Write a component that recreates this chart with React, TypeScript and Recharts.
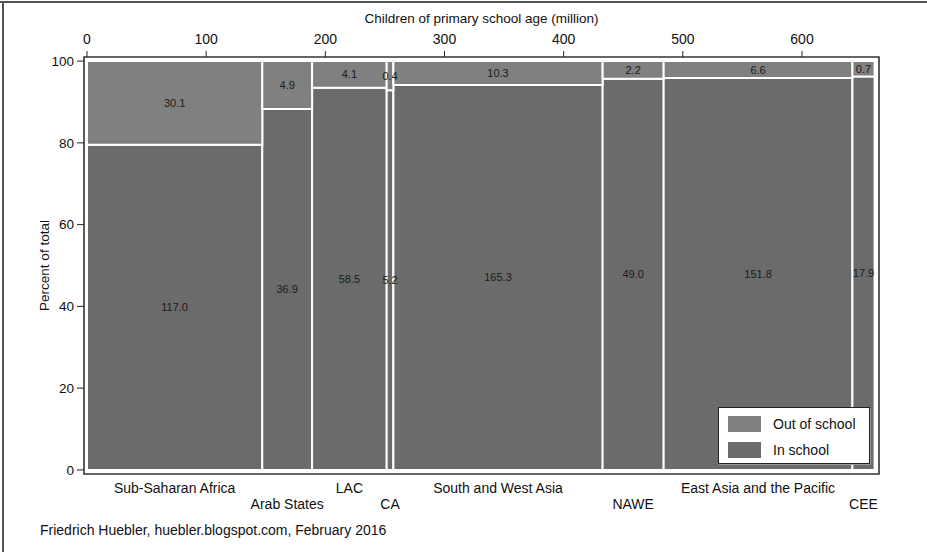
import { ComposedChart, XAxis, YAxis, ReferenceArea, Legend } from "recharts";

const regions = [
  "Sub-Saharan Africa",
  "Arab States",
  "LAC",
  "CA",
  "South and West Asia",
  "NAWE",
  "East Asia and the Pacific",
  "CEE",
];
const inSchool = [117.0, 36.9, 58.5, 5.2, 165.3, 49.0, 151.8, 17.9];
const outOfSchool = [30.1, 4.9, 4.1, 0.4, 10.3, 2.2, 6.6, 0.7];
const xTicks = [0, 100, 200, 300, 400, 500, 600];
const yTicks = [0, 20, 40, 60, 80, 100];

const IN_COLOR = "#6b6b6b";
const OUT_COLOR = "#808080";
const FONT = "Liberation Sans, Arial, sans-serif";

// cumulative x positions (million children) for each region
let acc = 0;
const cells = regions.map((name, i) => {
  const total = inSchool[i] + outOfSchool[i];
  const x0 = acc;
  acc += total;
  return {
    name,
    x0,
    x1: acc,
    mid: x0 + total / 2,
    pct: (inSchool[i] / total) * 100,
    inVal: inSchool[i].toFixed(1),
    outVal: outOfSchool[i].toFixed(1),
  };
});
const grandTotal = acc;
const mids = cells.map((c) => c.mid);

const CategoryTick = (props: any) => {
  const { x, y, payload, index } = props;
  const c = cells[index];
  const low = index % 2 === 1;
  return (
    <text
      x={x}
      y={y + (low ? 27 : 11)}
      textAnchor="middle"
      fontSize={14}
      fontFamily={FONT}
      fill="#111"
    >
      {c ? c.name : payload.value}
    </text>
  );
};

const LegendBox = () => (
  <div
    style={{
      width: 152,
      height: 57,
      background: "#fff",
      border: "1px solid #222",
      boxShadow: "1px 1px 0 #999",
      fontFamily: FONT,
      fontSize: 14,
      color: "#111",
      boxSizing: "border-box",
      position: "relative",
    }}
  >
    {[
      { label: "Out of school", color: OUT_COLOR, top: 8 },
      { label: "In school", color: IN_COLOR, top: 34 },
    ].map((it) => (
      <div key={it.label} style={{ position: "absolute", left: 9, top: it.top, display: "flex", alignItems: "center" }}>
        <span style={{ display: "inline-block", width: 33, height: 16, background: it.color }} />
        <span style={{ marginLeft: 12, lineHeight: "16px" }}>{it.label}</span>
      </div>
    ))}
  </div>
);

export default function App() {
  return (
    <div
      style={{
        position: "absolute",
        left: 0,
        top: 0,
        width: 927,
        height: 552,
        background: "#fff",
        fontFamily: FONT,
      }}
    >
      <div style={{ position: "absolute", left: 0, top: 1, width: 927, height: 1.5, background: "#555" }} />
      <div style={{ position: "absolute", left: 2, top: 1, width: 1.5, height: 551, background: "#555" }} />
      <ComposedChart
        width={927}
        height={552}
        data={cells}
        margin={{ top: 0, right: 48, bottom: 40, left: 0 }}
      >
        <XAxis
          xAxisId="top"
          orientation="top"
          type="number"
          dataKey="mid"
          domain={[-2.5, 664.6]}
          allowDataOverflow
          ticks={xTicks}
          height={57}
          tickSize={6}
          tickMargin={7}
          axisLine={false}
          tickLine={{ stroke: "#222" }}
          tick={{ fontSize: 14, fill: "#111", fontFamily: FONT }}
          label={{
            value: "Children of primary school age (million)",
            position: "insideTop",
            offset: 13,
            fontSize: 13.5,
            fill: "#111",
            fontFamily: FONT,
          }}
        />
        <XAxis
          xAxisId="cat"
          orientation="bottom"
          type="number"
          dataKey="mid"
          domain={[-2.5, 664.6]}
          allowDataOverflow
          ticks={mids}
          height={38}
          axisLine={false}
          tickLine={false}
          interval={0}
          tick={<CategoryTick />}
        />
        <YAxis
          yAxisId="left"
          type="number"
          domain={[-1, 101]}
          allowDataOverflow
          ticks={yTicks}
          width={84}
          tickSize={7}
          tickMargin={3}
          axisLine={false}
          tickLine={{ stroke: "#222" }}
          tick={{ fontSize: 13.5, fill: "#111", fontFamily: FONT }}
          label={{
            value: "Percent of total",
            angle: -90,
            position: "insideLeft",
            offset: 44,
            style: { textAnchor: "middle" },
            fontSize: 13.5,
            fill: "#111",
            fontFamily: FONT,
          }}
        />
        {cells.map((c) => (
          <ReferenceArea
            key={`in-${c.name}`}
            xAxisId="top"
            yAxisId="left"
            x1={c.x0}
            x2={c.x1}
            y1={0}
            y2={c.pct}
            fill={IN_COLOR}
            fillOpacity={1}
            stroke="#fff"
            strokeWidth={2}
            ifOverflow="visible"
            label={{ value: c.inVal, position: "center", fontSize: 11, fill: "#1a1a1a", fontFamily: FONT }}
          />
        ))}
        {cells.map((c) => (
          <ReferenceArea
            key={`out-${c.name}`}
            xAxisId="top"
            yAxisId="left"
            x1={c.x0}
            x2={c.x1}
            y1={c.pct}
            y2={100}
            fill={OUT_COLOR}
            fillOpacity={1}
            stroke="#fff"
            strokeWidth={2}
            ifOverflow="visible"
            label={{ value: c.outVal, position: "center", fontSize: 11, fill: "#1a1a1a", fontFamily: FONT }}
          />
        ))}
        <ReferenceArea
          xAxisId="top"
          yAxisId="left"
          x1={-2.5}
          x2={Math.max(664.6, grandTotal)}
          y1={-1}
          y2={101}
          fill="none"
          stroke="#333"
          strokeWidth={1.6}
          ifOverflow="visible"
        />
        <Legend
          layout="horizontal"
          verticalAlign="middle"
          align="center"
          content={<LegendBox />}
          wrapperStyle={{ position: "absolute", left: 718, top: 407, width: 152, height: 57 }}
        />
      </ComposedChart>
      <div
        style={{
          position: "absolute",
          left: 40,
          top: 522,
          fontSize: 14,
          color: "#111",
          fontFamily: FONT,
          whiteSpace: "nowrap",
        }}
      >
        Friedrich Huebler, huebler.blogspot.com, February 2016
      </div>
    </div>
  );
}
